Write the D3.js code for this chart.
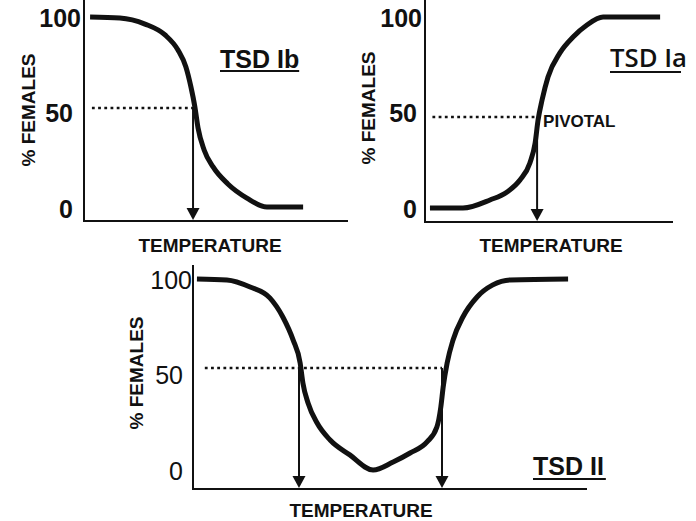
<!DOCTYPE html>
<html><head><meta charset="utf-8">
<script src="https://cdn.jsdelivr.net/npm/d3@7"></script>
<style>html,body{margin:0;padding:0;background:#fff;} svg{display:block;}</style>
</head><body>
<svg id="c" width="696" height="521"></svg>
<script>
// ---------- data ----------
const yTickValues = [0, 50, 100];
const yTickLabels = ["0", "50", "100"];
const xTitle = "TEMPERATURE";
const yTitle = "% FEMALES";
const titles = ["TSD Ib", "TSD Ia", "TSD II"];
const pivotLabel = "PIVOTAL";

// TSD Ib (female at low temperature)
const ibTemp    = [2.3, 13.6, 23.1, 30.7, 35.6, 38.6, 40.5, 42.0, 43.2, 45.5, 48.9, 54.5, 61.7, 69.3, 83.0];
const ibFemales = [100, 99.5, 96.3, 90.6, 82.7, 73.8, 63.4, 52.9, 41.9, 30.4, 21.5, 12.6, 5.2, 0.5, 0.5];
const ibPivots  = [41.3];
const ibLevel   = 52.4;

// TSD Ia (female at high temperature)
const iaTemp    = [2.0, 15.3, 26.2, 33.1, 38.3, 42.3, 44.4, 45.6, 47.2, 49.6, 54.4, 59.7, 65.3, 71.8, 94.8];
const iaFemales = [0, 0, 4.2, 8.4, 14.7, 23.6, 34.0, 46.1, 56.5, 68.6, 81.2, 89.5, 95.8, 100, 100];
const iaPivots  = [45.2];
const iaLevel   = 47.6;

// TSD II (female at both extremes)
const iiTemp    = [1.0, 8.6, 14.5, 19.5, 22.8, 25.4, 27.2, 27.9, 29.2, 31.5, 34.8, 39.8, 45.7, 50.8, 55.1, 59.4, 61.9, 62.9, 63.5, 64.5, 66.0, 68.5, 72.1, 76.1, 80.5, 95.2];
const iiFemales = [100, 99.5, 95.8, 90.1, 80.1, 68.1, 56.0, 45.5, 35.1, 24.6, 15.7, 7.9, 0, 4.2, 8.9, 14.7, 22.5, 33.0, 43.5, 56.0, 68.1, 80.1, 90.6, 96.9, 99.5, 100];
const iiPivots  = [26.9, 63.2];
const iiLevel   = 53.4;

// ---------- drawing ----------
const svg = d3.select("#c");
const INK = "#111";
const FONT = "'Liberation Sans', Arial, Helvetica, sans-serif";

function drawPanel(cfg, temp, females, pivots, level, title) {
  const x = d3.scaleLinear().domain([0, 100]).range([cfg.x0, cfg.x1]);
  const y = d3.scaleLinear().domain([0, 100]).range([cfg.yZero, cfg.yHundred]);
  const g = svg.append("g");

  // axes lines
  g.append("line").attr("x1", cfg.x0).attr("x2", cfg.x0).attr("y1", cfg.top).attr("y2", cfg.axisY)
    .attr("stroke", INK).attr("stroke-width", 2);
  g.append("line").attr("x1", cfg.x0 - 1).attr("x2", cfg.x1).attr("y1", cfg.axisY).attr("y2", cfg.axisY)
    .attr("stroke", INK).attr("stroke-width", 2);

  // y tick labels via d3 axis
  const ax = g.append("g").attr("transform", `translate(${cfg.x0},0)`)
    .call(d3.axisLeft(y).tickValues(yTickValues).tickSize(0).tickPadding(cfg.pad)
      .tickFormat((d, i) => yTickLabels[i]));
  ax.select(".domain").remove();
  ax.selectAll("text")
    .attr("font-family", FONT).attr("font-size", cfg.tickSize).attr("font-weight", cfg.tickWeight)
    .attr("fill", INK).attr("dy", "0.36em")
    .attr("x", (d) => d === 100 ? -cfg.pad100 : -cfg.pad);

  // dotted level line
  g.append("line")
    .attr("x1", x(3)).attr("x2", x(d3.max(pivots)))
    .attr("y1", y(level)).attr("y2", y(level))
    .attr("stroke", INK).attr("stroke-width", 2.5).attr("stroke-dasharray", "2.8,3.4");

  // arrows
  pivots.forEach(p => {
    const px = x(p);
    g.append("line").attr("x1", px).attr("x2", px).attr("y1", y(level)).attr("y2", cfg.axisY - 10)
      .attr("stroke", INK).attr("stroke-width", 2);
    g.append("path")
      .attr("d", `M${px - 6.5},${cfg.axisY - 13} L${px + 6.5},${cfg.axisY - 13} L${px},${cfg.axisY - 1} Z`)
      .attr("fill", INK);
  });

  // curve
  const pts = temp.map((t, i) => [t, females[i]]);
  g.append("path").datum(pts)
    .attr("d", d3.line().x(d => x(d[0])).y(d => y(d[1])).curve(d3.curveMonotoneX))
    .attr("fill", "none").attr("stroke", INK).attr("stroke-width", 5)
    .attr("stroke-linecap", "butt").attr("stroke-linejoin", "round");

  // axis titles
  g.append("text").attr("transform", `translate(${cfg.yTitleX},${cfg.yTitleY}) rotate(-90)`)
    .attr("text-anchor", "middle").attr("dy", "0.35em")
    .attr("font-family", FONT).attr("font-weight", "bold").attr("font-size", 19).attr("fill", INK)
    .text(yTitle);
  g.append("text").attr("x", cfg.xTitleX).attr("y", cfg.xTitleY)
    .attr("text-anchor", "middle").attr("dy", "0.35em")
    .attr("font-family", FONT).attr("font-weight", "bold").attr("font-size", 19).attr("fill", INK)
    .text(xTitle);

  // panel title with underline
  const t = g.append("text").attr("x", cfg.titleX).attr("y", cfg.titleY)
    .attr("font-family", cfg.titleFont).attr("font-weight", cfg.titleWeight)
    .attr("font-size", cfg.titleSize).attr("fill", INK).text(title);
  if (cfg.titleLen) t.attr("textLength", cfg.titleLen).attr("lengthAdjust", "spacingAndGlyphs");
  const w = cfg.titleLen || t.node().getComputedTextLength();
  g.append("line").attr("x1", cfg.titleX).attr("x2", cfg.titleX + w + cfg.ulExtra)
    .attr("y1", cfg.ulY).attr("y2", cfg.ulY).attr("stroke", INK).attr("stroke-width", 2.2);

  return { x, y, g };
}

drawPanel({x0: 84, x1: 348, top: 0, axisY: 221, yZero: 208, yHundred: 17,
  pad: 11, pad100: 3, tickSize: 25, tickWeight: "bold",
  yTitleX: 28, yTitleY: 110, xTitleX: 210, xTitleY: 245,
  titleX: 220, titleY: 68, titleSize: 25, titleWeight: "bold", titleFont: FONT, ulY: 71, ulExtra: 0},
  ibTemp, ibFemales, ibPivots, ibLevel, titles[0]);

const pa = drawPanel({x0: 425, x1: 673, top: 0, axisY: 222, yZero: 208, yHundred: 17,
  pad: 8, pad100: 3, tickSize: 25, tickWeight: "bold",
  yTitleX: 368, yTitleY: 108, xTitleX: 551, xTitleY: 245,
  titleX: 610, titleY: 67, titleSize: 26, titleWeight: 600, titleFont: "'Open Sans', 'Noto Sans', sans-serif",
  titleLen: 77, ulY: 72, ulExtra: -6},
  iaTemp, iaFemales, iaPivots, iaLevel, titles[1]);
pa.g.append("text").attr("x", pa.x(iaPivots[0]) + 6).attr("y", pa.y(iaLevel) + 4).attr("dy", "0.35em")
  .attr("font-family", FONT).attr("font-weight", "bold").attr("font-size", 17).attr("fill", INK)
  .text(pivotLabel);

drawPanel({x0: 193, x1: 587, top: 265, axisY: 489, yZero: 470, yHundred: 279,
  pad: 10, pad100: 1, tickSize: 25, tickWeight: "normal",
  yTitleX: 136, yTitleY: 373, xTitleX: 361, xTitleY: 510,
  titleX: 533, titleY: 475, titleSize: 25, titleWeight: "bold", titleFont: FONT, ulY: 479, ulExtra: 2},
  iiTemp, iiFemales, iiPivots, iiLevel, titles[2]);
</script>
</body></html>
